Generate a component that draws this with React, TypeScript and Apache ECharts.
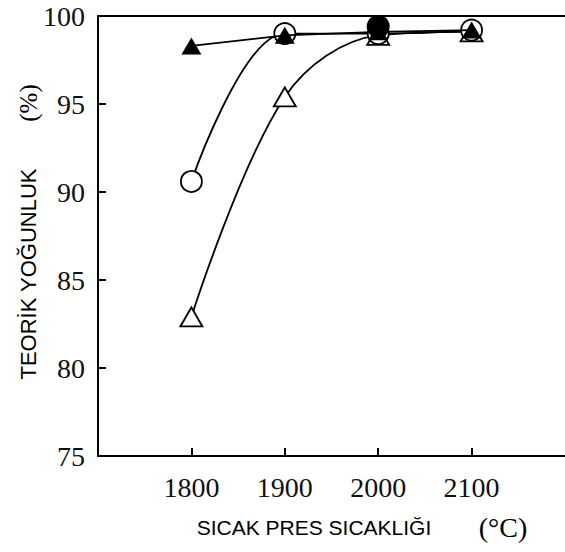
import React, { useEffect, useRef } from "react";
import * as echarts from "echarts";

// Hot-press temperature (°C) and relative (theoretical) density (%)
const temperatures = [1800, 1900, 2000, 2100];
const filledTriangle = [98.3, 98.9, 99.1, 99.2];
const openCircle = [90.6, 99.0, 99.0, 99.2];
const openTriangle = [82.9, 95.4, 98.9, 99.1];
const filledCircleTemps = [2000];
const filledCircle = [99.4];

const yTicks = [75, 80, 85, 90, 95, 100];

const pair = (xs: number[], ys: number[]) => xs.map((x, i) => [x, ys[i]]);

const SERIF = "'Liberation Serif', 'DejaVu Serif', serif";
const SANS = "'Liberation Sans', Arial, sans-serif";

export default function App() {
  const ref = useRef<HTMLDivElement>(null);

  useEffect(() => {
    if (!ref.current) return;
    const chart = echarts.init(ref.current, null, { renderer: "svg" });
    const line = { color: "#000", width: 1.8 };
    chart.setOption({
      animation: false,
      backgroundColor: "#fff",
      grid: { left: 98, right: 0, top: 16, bottom: 96 },
      xAxis: [
        {
          type: "value",
          min: 1700,
          max: 2200,
          interval: 100,
          splitLine: { show: false },
          axisLine: { lineStyle: { color: "#000", width: 2 } },
          axisTick: {
            inside: true,
            length: 8,
            lineStyle: { color: "#000", width: 2 },
            customValues: temperatures,
          },
          axisLabel: {
            customValues: temperatures,
            formatter: (v: number) => String(v),
            margin: 17,
            color: "#111",
            fontFamily: SERIF,
            fontSize: 28,
          },
        },
        {
          type: "value",
          position: "top",
          min: 1700,
          max: 2200,
          splitLine: { show: false },
          axisLine: { show: true, lineStyle: { color: "#000", width: 2 } },
          axisTick: { show: false },
          axisLabel: { show: false },
        },
      ],
      yAxis: {
        type: "value",
        min: yTicks[0],
        max: yTicks[yTicks.length - 1],
        interval: 5,
        splitLine: { show: false },
        axisLine: { show: true, lineStyle: { color: "#000", width: 2 } },
        axisTick: {
          show: true,
          inside: true,
          length: 8,
          lineStyle: { color: "#000", width: 2 },
        },
        axisLabel: {
          margin: 13,
          color: "#111",
          fontFamily: SERIF,
          fontSize: 28,
        },
      },
      graphic: [
        {
          type: "text",
          x: 28,
          y: 274,
          rotation: Math.PI / 2,
          style: {
            text: "TEORİK YOĞUNLUK",
            fontFamily: SANS,
            fontSize: 22,
            fill: "#000",
            textAlign: "center",
            textVerticalAlign: "middle",
          },
        },
        {
          type: "text",
          x: 28,
          y: 103,
          rotation: Math.PI / 2,
          style: {
            text: "(%)",
            fontFamily: SERIF,
            fontSize: 25,
            fill: "#000",
            textAlign: "center",
            textVerticalAlign: "middle",
          },
        },
        {
          type: "text",
          x: 314,
          y: 527,
          style: {
            text: "SICAK PRES SICAKLIĞI",
            fontFamily: SANS,
            fontSize: 21,
            fill: "#000",
            textAlign: "center",
            textVerticalAlign: "middle",
          },
        },
        {
          type: "text",
          x: 503,
          y: 527,
          style: {
            text: "(°C)",
            fontFamily: SERIF,
            fontSize: 28,
            fill: "#000",
            textAlign: "center",
            textVerticalAlign: "middle",
          },
        },
      ],
      series: [
        {
          type: "line",
          data: pair(temperatures, openTriangle),
          smooth: 0.35,
          symbol: "triangle",
          symbolSize: [22, 19],
          lineStyle: line,
          itemStyle: { color: "#fff", borderColor: "#000", borderWidth: 1.8 },
          z: 2,
        },
        {
          type: "line",
          data: pair(temperatures, openCircle),
          smooth: 0.45,
          smoothMonotone: "x",
          symbol: "circle",
          symbolSize: 21,
          lineStyle: line,
          itemStyle: { color: "#fff", borderColor: "#000", borderWidth: 1.8 },
          z: 3,
        },
        {
          type: "line",
          data: pair(temperatures, filledTriangle),
          symbol: "triangle",
          symbolSize: [20, 17],
          lineStyle: line,
          itemStyle: { color: "#000" },
          z: 4,
        },
        {
          type: "line",
          data: pair(filledCircleTemps, filledCircle),
          symbol: "circle",
          symbolSize: 23,
          lineStyle: line,
          itemStyle: { color: "#000" },
          z: 5,
        },
      ],
    });
    return () => chart.dispose();
  }, []);

  return (
    <div
      ref={ref}
      style={{ position: "fixed", left: 0, top: 0, width: 565, height: 552 }}
    />
  );
}
